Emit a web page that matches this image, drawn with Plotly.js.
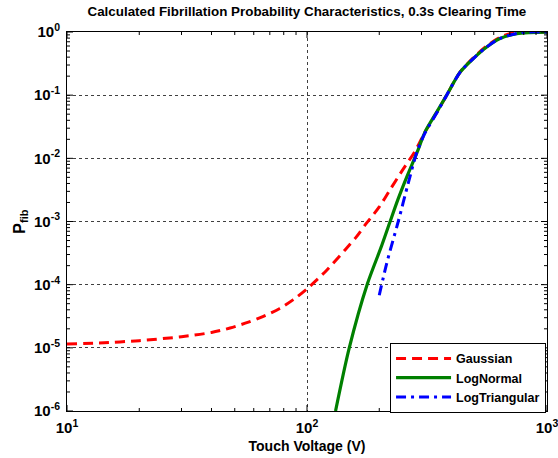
<!DOCTYPE html>
<html>
<head>
<meta charset="utf-8">
<script src="https://cdn.plot.ly/plotly-3.0.1.min.js"></script>
<style>
html,body{margin:0;padding:0;background:#fff;}
#chart{width:558px;height:458px;}
</style>
</head>
<body>
<div id="chart"></div>
<script>
// Gaussian model
const gaussV = [10, 13.6, 20, 30, 40, 47.8, 57, 65.8, 77, 87.7, 100, 120, 144, 160, 177, 200, 222, 250, 282, 310, 350, 382, 434, 493, 561, 637, 700, 800, 900, 1000];
const gaussP = [1.15e-5, 1.19e-5, 1.3e-5, 1.5e-5, 1.75e-5, 2.06e-5, 2.55e-5, 3.15e-5, 4.2e-5, 5.8e-5, 8.6e-5, 1.65e-4, 3.55e-4, 5.6e-4, 9.4e-4, 1.7e-3, 3.2e-3, 6.5e-3, 0.013, 0.026, 0.056, 0.1, 0.23, 0.39, 0.6, 0.82, 0.94, 0.99, 1.0, 1.0];

// LogNormal model
const lognV = [131.5, 150, 178, 205, 222, 240, 260, 290, 310, 350, 382, 434, 493, 561, 637, 748, 850, 1000];
const lognP = [1e-6, 1e-5, 1e-4, 4.2e-4, 1.0e-3, 2.3e-3, 5.0e-3, 0.0135, 0.026, 0.057, 0.1, 0.23, 0.38, 0.58, 0.79, 0.94, 0.98, 0.995];

// LogTriangular model
const ltriV = [200, 215, 240, 264, 286, 310, 350, 382, 434, 493, 561, 637, 748, 830, 1000];
const ltriP = [6.8e-5, 2.2e-4, 1.0e-3, 4.0e-3, 0.012, 0.025, 0.055, 0.1, 0.23, 0.38, 0.58, 0.79, 0.95, 1.0, 1.0];

const seriesNames = ["Gaussian", "LogNormal", "LogTriangular"];

const xTickVals = [10, 100, 1000];
const xTickText = ["10<sup>1</sup>", "10<sup>2</sup>", "10<sup>3</sup>"];
const yTickVals = [1e-6, 1e-5, 1e-4, 1e-3, 1e-2, 1e-1, 1];
const yTickText = ["10<sup>-6</sup>", "10<sup>-5</sup>", "10<sup>-4</sup>", "10<sup>-3</sup>", "10<sup>-2</sup>", "10<sup>-1</sup>", "10<sup>0</sup>"];

const titleText = "Calculated Fibrillation Probability Characteristics, 0.3s Clearing Time";
const xTitle = "Touch Voltage (V)";
const yTitle = "P<sub>fib</sub>";

const FONT = "Liberation Sans, Arial, Helvetica, sans-serif";

// minor tick positions (2..9 within each decade)
function minorTicks(decades) {
  const out = [];
  decades.forEach(d => { for (let m = 2; m <= 9; m++) out.push(m * d); });
  return out;
}
const xMinor = minorTicks([10, 100]);
const yMinor = minorTicks([1e-6, 1e-5, 1e-4, 1e-3, 1e-2, 1e-1]);

const W = 558, H = 458;
const M = {l: 67, r: 11, t: 32, b: 47};
const plotW = W - M.l - M.r, plotH = H - M.t - M.b;
const MINOR_LEN = 3, MAJOR_LEN = 6;

// tick marks on all four sides, drawn as axis-referenced shapes
const shapes = [];
const tickLine = {color: "#000", width: 1};
function xTick(v, len) {
  shapes.push({type: "line", xref: "x", yref: "y domain", x0: v, x1: v, y0: 0, y1: len / plotH, line: tickLine, layer: "above"});
  shapes.push({type: "line", xref: "x", yref: "y domain", x0: v, x1: v, y0: 1, y1: 1 - len / plotH, line: tickLine, layer: "above"});
}
function yTick(v, len) {
  shapes.push({type: "line", xref: "x domain", yref: "y", y0: v, y1: v, x0: 0, x1: len / plotW, line: tickLine, layer: "above"});
  shapes.push({type: "line", xref: "x domain", yref: "y", y0: v, y1: v, x0: 1, x1: 1 - len / plotW, line: tickLine, layer: "above"});
}
xMinor.forEach(v => xTick(v, MINOR_LEN));
yMinor.forEach(v => yTick(v, MINOR_LEN));
xTickVals.forEach(v => xTick(v, MAJOR_LEN));
yTickVals.forEach(v => yTick(v, MAJOR_LEN));

const traces = [
  {x: gaussV, y: gaussP, name: seriesNames[0], mode: "lines",
   line: {color: "#ff0000", width: 3, dash: "10px,6px", shape: "spline", smoothing: 0.8}},
  {x: lognV, y: lognP, name: seriesNames[1], mode: "lines",
   line: {color: "#008000", width: 3.2, shape: "spline", smoothing: 0.8}},
  {x: ltriV, y: ltriP, name: seriesNames[2], mode: "lines",
   line: {color: "#0000ff", width: 3, dash: "10px,5px,3px,5px", shape: "spline", smoothing: 0.8}}
];

const tickFont = {family: FONT, size: 15, color: "#000", weight: "bold"};

const axisCommon = {
  type: "log",
  showline: true, linecolor: "#000", linewidth: 1, mirror: true,
  ticks: "",
  showgrid: true, gridcolor: "rgba(0,0,0,0.75)", griddash: "dot", gridwidth: 1,
  zeroline: false,
  tickmode: "array",
  ticklabeloverflow: "allow",
  ticklabelstandoff: 3,
  tickfont: tickFont
};

const layout = {
  width: W, height: H,
  paper_bgcolor: "#fff", plot_bgcolor: "#fff",
  margin: M,
  title: {text: titleText, x: 0.55, xanchor: "center", y: 0.986, yanchor: "top",
          font: {family: FONT, size: 13.4, color: "#000", weight: "bold"}},
  xaxis: Object.assign({}, axisCommon, {
    range: [1, 3], tickvals: xTickVals, ticktext: xTickText,
    title: {text: xTitle, standoff: 6, font: {family: FONT, size: 14, color: "#000", weight: "bold"}}
  }),
  yaxis: Object.assign({}, axisCommon, {
    range: [-6, 0], tickvals: yTickVals, ticktext: yTickText,
    title: {text: yTitle, standoff: 4, font: {family: FONT, size: 16, color: "#000", weight: "bold"}}
  }),
  shapes: shapes,
  showlegend: true,
  legend: {x: 0.998, xanchor: "right", y: 0.18, yanchor: "top",
           bgcolor: "#fff", bordercolor: "#000", borderwidth: 1,
           font: {family: FONT, size: 12.5, color: "#000", weight: "bold"},
           tracegroupgap: 0, itemwidth: 55}
};

Plotly.newPlot("chart", traces, layout, {displayModeBar: false, staticPlot: true});
</script>
</body>
</html>
